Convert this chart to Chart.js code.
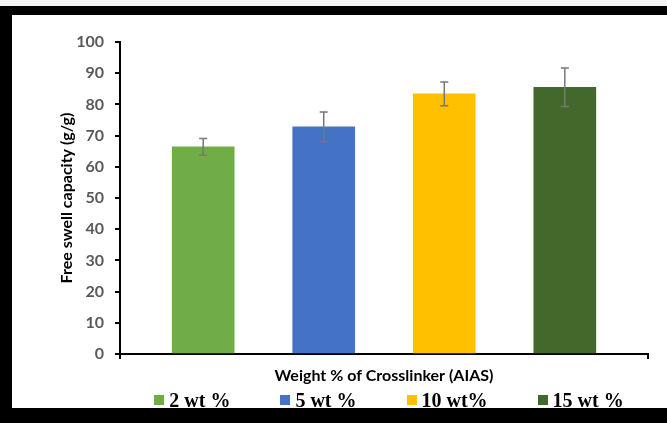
<!DOCTYPE html>
<html>
<head>
<meta charset="utf-8">
<script src="https://cdn.jsdelivr.net/npm/chart.js@4/dist/chart.umd.min.js"></script>
<style>
  html, body { margin: 0; padding: 0; background: #f3f3f3; }
  #frame {
    position: absolute; left: 0; top: 6px; width: 667px; height: 417px;
    box-sizing: border-box; background: #fff;
    border-left: 12px solid #000; border-top: 9px solid #000; border-bottom: 15px solid #000;
  }
  #wrap { position: relative; width: 655px; height: 393px; }
  canvas { display: block; }
  #legend {
    position: absolute; left: 99px; right: 0; top: 375px; height: 20px;
    display: flex; justify-content: center; gap: 50px;
    font: bold 20px "Liberation Serif", "Times New Roman", serif; line-height: 20px; color: #000;
  }
  #legend .item { display: flex; align-items: center; white-space: nowrap; }
  #legend .box { width: 10px; height: 10px; margin-right: 5px; }
</style>
</head>
<body>
<div id="frame">
  <div id="wrap">
    <canvas id="chart" width="655" height="393"></canvas>
    <div id="legend"></div>
  </div>
</div>
<script>
// Crosslinker loadings and measured free swell capacity (mean ± error)
const categories = ['2 wt %', '5 wt %', '10 wt%', '15 wt %'];
const swellValues = [66.4, 72.8, 83.4, 85.5];
const swellErrors = [2.7, 4.8, 3.8, 6.2];
const barColors = ['#70AD47', '#4472C4', '#FFC000', '#43682B'];
const yTickValues = [0, 10, 20, 30, 40, 50, 60, 70, 80, 90, 100];

const tickFont = { family: 'Lato', size: 16, weight: 'bold' };
const titleFont = { family: 'Lato', size: 16, weight: 'bold' };

// Vertical error bars with end caps, drawn on top of each bar
const errorBars = {
  id: 'errorBars',
  afterDatasetsDraw(chart) {
    const { ctx } = chart;
    const y = chart.scales.y;
    ctx.save();
    ctx.strokeStyle = '#777777';
    ctx.lineWidth = 1.5;
    chart.data.datasets.forEach((ds, i) => {
      const meta = chart.getDatasetMeta(i);
      meta.data.forEach((bar, j) => {
        const v = ds.data[j].y;
        const e = ds.errorMargin;
        const top = y.getPixelForValue(v + e);
        const bot = y.getPixelForValue(v - e);
        const cap = 4;
        ctx.beginPath();
        ctx.moveTo(bar.x, top); ctx.lineTo(bar.x, bot);
        ctx.moveTo(bar.x - cap, top); ctx.lineTo(bar.x + cap, top);
        ctx.moveTo(bar.x - cap, bot); ctx.lineTo(bar.x + cap, bot);
        ctx.stroke();
      });
    });
    ctx.restore();
  }
};

// Legend rendered as HTML from the chart's own legend items
const htmlLegend = {
  id: 'htmlLegend',
  afterUpdate(chart) {
    const box = document.getElementById('legend');
    box.innerHTML = '';
    const items = chart.options.plugins.legend.labels.generateLabels(chart);
    items.forEach(it => {
      const li = document.createElement('div');
      li.className = 'item';
      const sw = document.createElement('span');
      sw.className = 'box';
      sw.style.background = it.fillStyle;
      const tx = document.createElement('span');
      tx.textContent = it.text;
      li.appendChild(sw);
      li.appendChild(tx);
      box.appendChild(li);
    });
  }
};

new Chart(document.getElementById('chart'), {
  type: 'bar',
  data: {
    datasets: categories.map((name, i) => ({
      label: name,
      data: [{ x: i + 1, y: swellValues[i] }],
      backgroundColor: barColors[i],
      borderWidth: 0,
      errorMargin: swellErrors[i]
    }))
  },
  options: {
    responsive: false,
    animation: false,
    devicePixelRatio: 1,
    grouped: false,
    barThickness: 62,
    layout: { padding: { top: 27, right: 19, bottom: 23, left: 0 } },
    plugins: {
      legend: { display: false },
      tooltip: { enabled: false }
    },
    scales: {
      x: {
        type: 'linear',
        offset: false,
        min: 0.31,
        max: 4.69,
        afterBuildTicks(s) { s.ticks = [{ value: s.min }, { value: s.max }]; },
        afterFit(s) { s.height = 31; },
        ticks: { display: false },
        grid: { offset: false, drawOnChartArea: false, drawTicks: true, tickLength: 5, color: '#000', lineWidth: 2 },
        border: { display: true, color: '#000', width: 2 },
        title: {
          display: true, text: 'Weight % of Crosslinker (AIAS)', color: '#000',
          font: titleFont, padding: { top: 0, bottom: 0 }
        }
      },
      y: {
        min: 0,
        max: 100,
        afterBuildTicks(s) { s.ticks = yTickValues.map(v => ({ value: v })); },
        afterFit(s) { s.width = 108; },
        ticks: { color: '#595959', font: tickFont, padding: 11 },
        grid: { drawOnChartArea: false, drawTicks: true, tickLength: 5, color: '#000', lineWidth: 2 },
        border: { display: true, color: '#000', width: 2 },
        title: {
          display: true, text: 'Free swell capacity (g/g)', color: '#000',
          font: titleFont, padding: { top: 45, bottom: 0 }
        }
      }
    }
  },
  plugins: [errorBars, htmlLegend]
});
</script>
</body>
</html>
